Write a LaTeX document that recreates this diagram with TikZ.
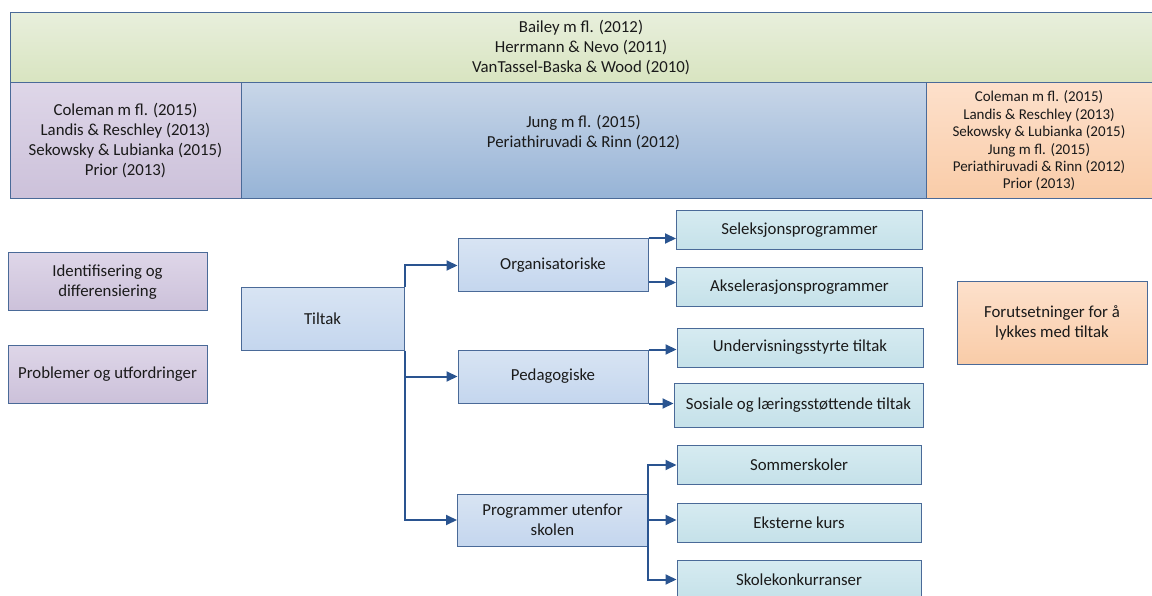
\documentclass[tikz,border=0pt]{standalone}
\usepackage{fontspec}
\setmainfont{Carlito}
\usepackage{xcolor}
\usepackage{tikz}
\usetikzlibrary{arrows.meta}
\definecolor{edge}{HTML}{4A6A98}
\definecolor{link}{HTML}{2A5490}
\definecolor{ink}{HTML}{1A1A1A}
\definecolor{greenT}{HTML}{E8EFDC}
\definecolor{greenB}{HTML}{D8E4C0}
\definecolor{lilaT}{HTML}{DED6E8}
\definecolor{lilaB}{HTML}{CCC1DA}
\definecolor{blueT}{HTML}{C8D6E8}
\definecolor{blueB}{HTML}{96B3D6}
\definecolor{orangeT}{HTML}{FDE0CB}
\definecolor{orangeB}{HTML}{F9CCA8}
\definecolor{boxT}{HTML}{D8E4F3}
\definecolor{boxB}{HTML}{C4D6EE}
\definecolor{leafT}{HTML}{D6EBF1}
\definecolor{leafB}{HTML}{C5E1E9}
\tikzset{
  base/.style={draw=edge, line width=1pt, text=ink, align=center, inner sep=2pt,
    font=\fontsize{16.8}{20}\selectfont},
  refband/.style={base, top color=#1T, bottom color=#1B},
  lilabox/.style={base, top color=lilaT, bottom color=lilaB, minimum width=199pt, minimum height=58pt},
  midbox/.style={base, top color=boxT, bottom color=boxB, minimum width=190pt, minimum height=53pt},
  leafbox/.style={base, top color=leafT, bottom color=leafB, minimum width=246pt, minimum height=39pt},
  arr/.style={draw=link, line width=2pt, -{Triangle[length=11pt,width=10pt]}}
}
\begin{document}
\begin{tikzpicture}[x=1pt, y=-1pt]
  \useasboundingbox (0,0) rectangle (1152,596);

  % reference bands
  \node[refband=green, minimum width=1142pt, minimum height=70pt] (top) at (581,48)
    {Bailey m fl. (2012)\\Herrmann \& Nevo (2011)\\VanTassel-Baska \& Wood (2010)};
  \node[refband=lila, minimum width=231pt, minimum height=116pt] (refL) at (125.5,141)
    {Coleman m fl. (2015)\\Landis \& Reschley (2013)\\Sekowsky \& Lubianka (2015)\\Prior (2013)};
  \node[refband=blue, minimum width=685pt, minimum height=116pt] (refM) at (583.5,141)
    {Jung m fl. (2015)\\Periathiruvadi \& Rinn (2012)\\~};
  \node[refband=orange, minimum width=226pt, minimum height=116pt,
    font=\fontsize{15}{17.4}\selectfont] (refR) at (1039,141)
    {Coleman m fl. (2015)\\Landis \& Reschley (2013)\\Sekowsky \& Lubianka (2015)\\Jung m fl. (2015)\\Periathiruvadi \& Rinn (2012)\\Prior (2013)};

  % side boxes
  \node[lilabox] (ident) at (107.5,282) {Identifisering og\\differensiering};
  \node[lilabox] (probl) at (107.5,374) {Problemer og utfordringer};
  \node[base, top color=orangeT, bottom color=orangeB, minimum width=190pt, minimum height=82pt]
    (forut) at (1052,323) {Forutsetninger for å\\lykkes med tiltak};

  % tree
  \node[midbox, minimum width=163pt, minimum height=62pt] (tiltak) at (322.5,319) {Tiltak};
  \node[midbox] (org)  at (553,265.5) {Organisatoriske};
  \node[midbox] (ped)  at (553,376.5) {Pedagogiske};
  \node[midbox, minimum height=52pt] (prog) at (552.5,520) {Programmer utenfor\\skolen};

  \node[leafbox] (sel) at (799.5,230)   {Seleksjonsprogrammer};
  \node[leafbox] (aks) at (799.5,287.5) {Akselerasjonsprogrammer};
  \node[leafbox] (und) at (800,347.5)   {Undervisningsstyrte tiltak};
  \node[leafbox, minimum width=249pt, minimum height=44pt] (sos) at (798.5,405) {Sosiale og læringsstøttende tiltak};
  \node[leafbox, minimum width=244pt] (som) at (799,465)   {Sommerskoler};
  \node[leafbox, minimum width=244pt] (eks) at (799,522.5) {Eksterne kurs};
  \node[leafbox, minimum width=244pt] (sko) at (799,579.5) {Skolekonkurranser};

  % connectors
  \draw[arr] (tiltak.north east) |- (org.west);
  \draw[arr] (tiltak.south east) |- (ped.west);
  \draw[arr] (tiltak.south east) |- (prog.west);

  \draw[arr] (org.north east) -- (org.north east -| sel.west);
  \draw[arr] ([yshift=10pt]org.south east) -- ([yshift=10pt]org.south east -| aks.west);
  \draw[arr] (ped.north east) -- (ped.north east -| und.west);
  \draw[arr] (ped.south east) -- (ped.south east -| sos.west);
  \draw[arr] (prog.east) |- (som.west);
  \draw[arr] (prog.east) -- (prog.east -| eks.west);
  \draw[arr] (prog.east) |- (sko.west);
\end{tikzpicture}
\end{document}
